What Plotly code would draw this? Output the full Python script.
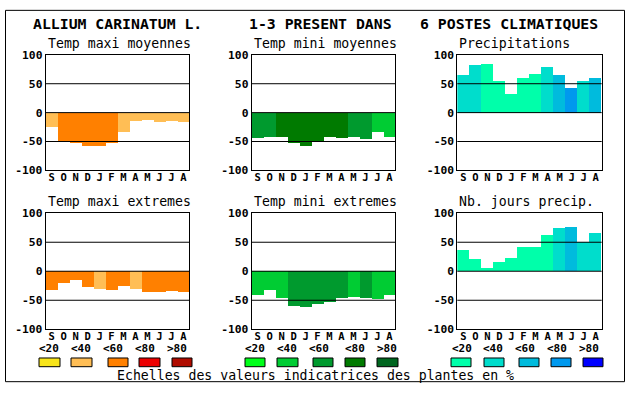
import plotly.graph_objects as go

W, H = 630, 394

months = ["S", "O", "N", "D", "J", "F", "M", "A", "M", "J", "J", "A"]
main_titles = ["ALLIUM CARINATUM L.", "1-3 PRESENT DANS", "6 POSTES CLIMATIQUES"]
panel_titles = ["Temp maxi moyennes", "Temp mini moyennes", "Precipitations",
                "Temp maxi extremes", "Temp mini extremes", "Nb. jours precip."]
scale_labels = ["<20", "<40", "<60", "<80", ">80"]
footer = "Echelles des valeurs indicatrices des plantes en %"
y_ticks = [100, 50, 0, -50, -100]

orange_pal = ["#F8E51A", "#FFBE55", "#FF8000", "#EC0000", "#B00C00"]
green_pal = ["#00FF1A", "#00CC33", "#009A2E", "#007A00", "#00661F"]
blue_pal = ["#00FFAA", "#00DDCC", "#00BBDD", "#0099EE", "#0000FF"]

tmax_moy = [-25, -48, -53, -57, -58, -53, -33, -14, -12, -16, -15, -16]
tmax_moy_cls = [1, 2, 2, 2, 2, 2, 1, 1, 1, 1, 1, 1]
tmin_moy = [-44, -42, -42, -53, -58, -50, -42, -44, -42, -46, -33, -42]
tmin_moy_cls = [2, 2, 3, 3, 3, 3, 3, 3, 2, 2, 1, 1]
precip = [65, 82, 85, 55, 32, 60, 67, 80, 65, 43, 55, 60]
precip_cls = [1, 1, 0, 0, 0, 0, 0, 1, 2, 3, 1, 2]
tmax_ext = [-32, -21, -15, -27, -31, -32, -26, -31, -37, -37, -34, -36]
tmax_ext_cls = [2, 2, 2, 2, 1, 2, 2, 1, 2, 2, 2, 2]
tmin_ext = [-41, -33, -46, -61, -62, -57, -54, -46, -44, -46, -49, -41]
tmin_ext_cls = [1, 1, 1, 2, 2, 2, 2, 2, 1, 2, 1, 1]
jours = [37, 21, 6, 16, 22, 42, 42, 62, 74, 76, 50, 66]
jours_cls = [0, 0, 0, 0, 0, 0, 0, 0, 1, 2, 1, 1]

panels = [
    (tmax_moy, tmax_moy_cls, orange_pal),
    (tmin_moy, tmin_moy_cls, green_pal),
    (precip, precip_cls, blue_pal),
    (tmax_ext, tmax_ext_cls, orange_pal),
    (tmin_ext, tmin_ext_cls, green_pal),
    (jours, jours_cls, blue_pal),
]

MONO = "DejaVu Sans Mono"

# pixel geometry of plot areas
col_x = [(45.7, 189.3), (251.7, 395.3), (457.3, 601.7)]
row_y = [(50.5, 170.0), (214.3, 334.3)]

def px(x):
    return x / W

def py(y):
    return 1 - y / H

fig = go.Figure()
layout_axes = {}
shapes = []
annotations = []

for i, (vals, cls, pal) in enumerate(panels):
    r, c = divmod(i, 3)
    n = i + 1
    xa = "x" if n == 1 else f"x{n}"
    ya = "y" if n == 1 else f"y{n}"
    fig.add_trace(go.Bar(
        x=list(range(len(months))), y=vals,
        marker=dict(color=[pal[k] for k in cls], line=dict(width=0)),
        xaxis=xa, yaxis=ya, showlegend=False, hoverinfo="skip",
    ))
    xk = "xaxis" if n == 1 else f"xaxis{n}"
    yk = "yaxis" if n == 1 else f"yaxis{n}"
    layout_axes[xk] = dict(
        domain=[px(col_x[c][0]), px(col_x[c][1])], anchor=ya,
        range=[-0.5, 11.5], tickvals=list(range(12)), ticktext=months,
        showgrid=False, zeroline=False, showline=True, mirror=True,
        linecolor="black", linewidth=1, ticks="", ticklen=0,
        ticklabelstandoff=-3,
        tickfont=dict(family=MONO, size=10.5, color="black", weight="bold"),
        fixedrange=True,
    )
    layout_axes[yk] = dict(
        domain=[py(row_y[r][1]), py(row_y[r][0])], anchor=xa,
        range=[-100, 100], tickvals=y_ticks, ticktext=[str(v) for v in y_ticks],
        showgrid=False, zeroline=False, showline=True, mirror=True,
        linecolor="black", linewidth=1, ticks="",
        tickfont=dict(family=MONO, size=11.3, color="black", weight="bold"),
        fixedrange=True,
    )
    for gy in (50, 0, -50):
        shapes.append(dict(type="line", xref=f"{xa} domain", yref=ya,
                           x0=0, x1=1, y0=gy, y1=gy,
                           line=dict(color="black", width=1), layer="above"))
    annotations.append(dict(
        text=panel_titles[i], x=px(col_x[c][0]), y=py(row_y[r][0] - 12),
        xref="paper", yref="paper", xanchor="left", yanchor="middle",
        showarrow=False, font=dict(family=MONO, size=13.2, color="black"),
    ))

# main titles
title_x = [31, 247, 418]
for t, x in zip(main_titles, title_x):
    annotations.append(dict(
        text=t, x=px(x), y=py(18), xref="paper", yref="paper",
        xanchor="left", yanchor="middle", showarrow=False,
        font=dict(family=MONO, size=14.8, color="black", weight="bold"),
    ))

# legend scales
label_cx = [[49, 81, 113, 145, 177], [255, 287, 319, 355, 387], [461.7, 493, 525, 557, 589]]
box_x = [[(39, 60), (71, 92), (108, 128), (139, 160), (172, 192)],
         [(245, 265), (277, 298), (313, 333), (345, 365), (377, 398)],
         [(451, 471), (484, 504), (519, 539), (551, 571), (583, 603)]]
for pal, lcx, bxs in zip([orange_pal, green_pal, blue_pal], label_cx, box_x):
    for col, lab, cx, (bx0, bx1) in zip(pal, scale_labels, lcx, bxs):
        annotations.append(dict(
            text=lab, x=px(cx), y=py(354), xref="paper", yref="paper",
            xanchor="center", yanchor="middle", showarrow=False,
            font=dict(family=MONO, size=11, color="black", weight="bold"),
        ))
        shapes.append(dict(type="rect", xref="paper", yref="paper",
                           x0=px(bx0), x1=px(bx1), y0=py(373), y1=py(364),
                           fillcolor=col, line=dict(color="black", width=1)))

annotations.append(dict(
    text=footer, x=px(115), y=py(382.5), xref="paper", yref="paper",
    xanchor="left", yanchor="middle", showarrow=False,
    font=dict(family=MONO, size=13.2, color="black"),
))

# outer frame
shapes.append(dict(type="rect", xref="paper", yref="paper",
                   x0=px(5.5), x1=px(624.5), y0=py(388.5), y1=py(4.5),
                   line=dict(color="black", width=1), fillcolor="rgba(0,0,0,0)"))

fig.update_layout(
    width=W, height=H, autosize=False,
    margin=dict(l=0, r=0, t=0, b=0, pad=0),
    paper_bgcolor="white", plot_bgcolor="white",
    bargap=0, shapes=shapes, annotations=annotations,
    **layout_axes,
)

fig.write_html(
    "out.html",
    config={"displayModeBar": False},
    post_script="document.body.style.margin='0';document.body.style.padding='0';"
                "document.body.style.overflow='hidden';"
                "document.documentElement.style.overflow='hidden';",
)
